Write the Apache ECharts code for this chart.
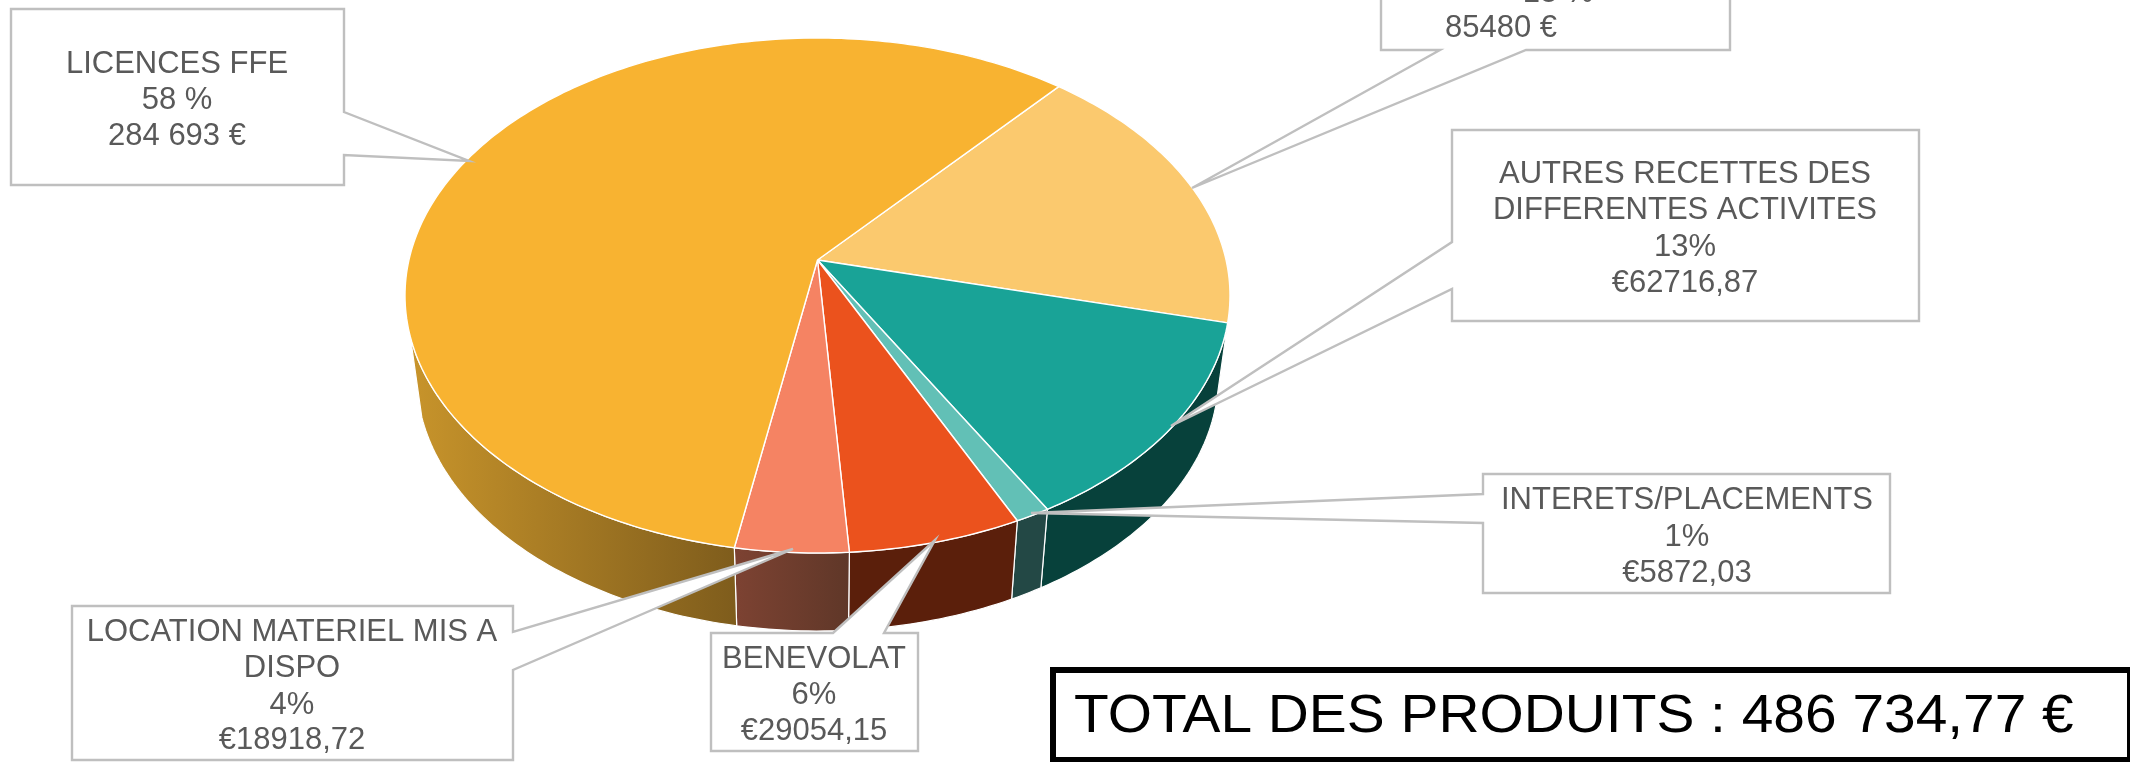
<!DOCTYPE html>
<html>
<head>
<meta charset="utf-8">
<title>Produits</title>
<script src="https://cdn.jsdelivr.net/npm/echarts@6/dist/echarts.min.js"></script>
<style>
  html, body { margin: 0; padding: 0; background: #fff; }
  #chart { width: 2130px; height: 762px; }
</style>
</head>
<body>
<div id="chart"></div>
<script>
// data, clockwise from the first slice
const values = [85480, 62716.87, 5872.03, 29054.15, 18918.72, 284693]
const nameLabels = [[], ['AUTRES RECETTES DES', 'DIFFERENTES ACTIVITES'], ['INTERETS/PLACEMENTS'], ['BENEVOLAT'], ['LOCATION MATERIEL MIS A', 'DISPO'], ['LICENCES FFE']]
const percentLabels = ['18 %', '13%', '1%', '6%', '4%', '58 %']
const valueLabels = ['85480 €', '€62716,87', '€5872,03', '€29054,15', '€18918,72', '284 693 €']
const totalLabel = 'TOTAL DES PRODUITS : 486 734,77 €'

// styles
const topColors = ['#FBC96E', '#19A397', '#62C0B6', '#EB521D', '#F58363', '#F8B331']
const sideColors = [
  '#B08A45',
  '#07413B',
  '#234845',
  '#5B1F0B',
  { type: 'linear', x: 738, y: 0, x2: 851, y2: 0, global: true, colorStops: [{ offset: 0, color: '#7C4232' }, { offset: 1, color: '#5F3728' }] },
  { type: 'linear', x: 405, y: 0, x2: 738, y2: 0, global: true, colorStops: [{ offset: 0, color: '#C9952B' }, { offset: 1, color: '#7E5C1C' }] },
]

// pie geometry: perspective ellipse, the apex sits above the ellipse centre
const startAngle = 40.7
const topFace = { cx: 817.5, cy: 295.5, rx: 412.5, ry: 257.5, offset: 35.5 }
const bottomFace = { cx: 817.5, cy: 376, rx: 401, ry: 255, offset: 35 }
const wallFrom = 103
const wallTo = 253

// callout outlines and where their text lines go
const callouts = [
  { outline: [[1381, -20], [1730, -20], [1730, 50], [1526, 50], [1192, 188], [1440, 50], [1381, 50]], lines: [[1558, -7], [1501, 28]] },
  { outline: [[1452, 130], [1919, 130], [1919, 321], [1452, 321], [1452, 289], [1171, 426], [1452, 242]], lines: [[1685, 174], [1685, 210], [1685, 247], [1685, 283]] },
  { outline: [[1483, 474], [1890, 474], [1890, 593], [1483, 593], [1483, 523], [1031, 513], [1483, 494]], lines: [[1687, 500], [1687, 537], [1687, 573]] },
  { outline: [[711, 633], [833, 633], [935, 540], [884, 633], [918, 633], [918, 751], [711, 751]], lines: [[814, 659], [814, 695], [814, 731]] },
  { outline: [[72, 606], [513, 606], [513, 632], [793, 549], [513, 670], [513, 760], [72, 760]], lines: [[292, 632], [292, 668], [292, 705], [292, 740]] },
  { outline: [[11, 9], [344, 9], [344, 112], [469, 161], [344, 155], [344, 185], [11, 185]], lines: [[177, 64], [177, 100], [177, 136]] },
]

const total = values.reduce((a, b) => a + b, 0)
let acc = startAngle
const sliceAngles = values.map(v => {
  const from = acc
  acc += v / total * 360
  return [from, acc]
})

// angle in degrees, clockwise from the back of the pie
function project(face, deg) {
  const t = deg * Math.PI / 180
  const u = Math.sin(t)
  const v = -Math.cos(t)
  const c = face.offset / face.ry
  const w = 1 - c * v
  const d = face.rx * Math.sqrt(1 - c * c)
  return [face.cx + d * u / w, face.cy + (face.ry * v - face.offset) / w]
}

function arc(face, from, to) {
  const pts = []
  const n = Math.max(2, Math.ceil(Math.abs(to - from)))
  for (let i = 0; i <= n; i++) pts.push(project(face, from + (to - from) * i / n))
  return pts
}

function renderWall(params) {
  const [a, b] = sliceAngles[params.dataIndex]
  const from = Math.max(a, wallFrom)
  const to = Math.min(b, wallTo)
  if (to <= from) return null
  return {
    type: 'polygon',
    shape: { points: arc(topFace, from, to).concat(arc(bottomFace, to, from)) },
    style: { fill: sideColors[params.dataIndex], stroke: '#fff', lineWidth: 1.2, lineJoin: 'round' },
  }
}

function renderTop(params) {
  const [a, b] = sliceAngles[params.dataIndex]
  const apex = [topFace.cx, topFace.cy - topFace.offset]
  return {
    type: 'polygon',
    shape: { points: [apex].concat(arc(topFace, a, b)) },
    style: { fill: topColors[params.dataIndex], stroke: '#fff', lineWidth: 1.4, lineJoin: 'round' },
  }
}

function buildGraphics() {
  const els = []
  callouts.forEach((c, i) => {
    els.push({
      type: 'polygon',
      z: 10,
      shape: { points: c.outline },
      style: { fill: '#fff', stroke: '#BFBFBF', lineWidth: 2.4 },
    })
    const lines = nameLabels[i].concat([percentLabels[i], valueLabels[i]])
    lines.forEach((text, k) => {
      els.push({
        type: 'text',
        z: 11,
        x: c.lines[k][0],
        y: c.lines[k][1],
        style: { text, fill: '#595959', font: '31px "Liberation Sans", Arial, sans-serif', align: 'center', verticalAlign: 'middle' },
      })
    })
  })
  els.push({
    type: 'rect',
    z: 12,
    shape: { x: 1053, y: 670, width: 1077, height: 90 },
    style: { fill: '#fff', stroke: '#000', lineWidth: 6 },
  })
  els.push({
    type: 'text',
    z: 13,
    x: 1074,
    y: 717,
    scaleX: 1.053,
    style: { text: totalLabel, fill: '#000', font: '54px "Liberation Sans", Arial, sans-serif', align: 'left', verticalAlign: 'middle' },
  })
  return els
}

const chart = echarts.init(document.getElementById('chart'), null, { renderer: 'canvas' })
chart.setOption({
  animation: false,
  backgroundColor: '#fff',
  series: [
    { type: 'custom', coordinateSystem: 'none', silent: true, z: 2, data: values, renderItem: renderWall },
    { type: 'custom', coordinateSystem: 'none', silent: true, z: 3, data: values, renderItem: renderTop },
  ],
  graphic: { elements: buildGraphics() },
})
</script>
</body>
</html>
